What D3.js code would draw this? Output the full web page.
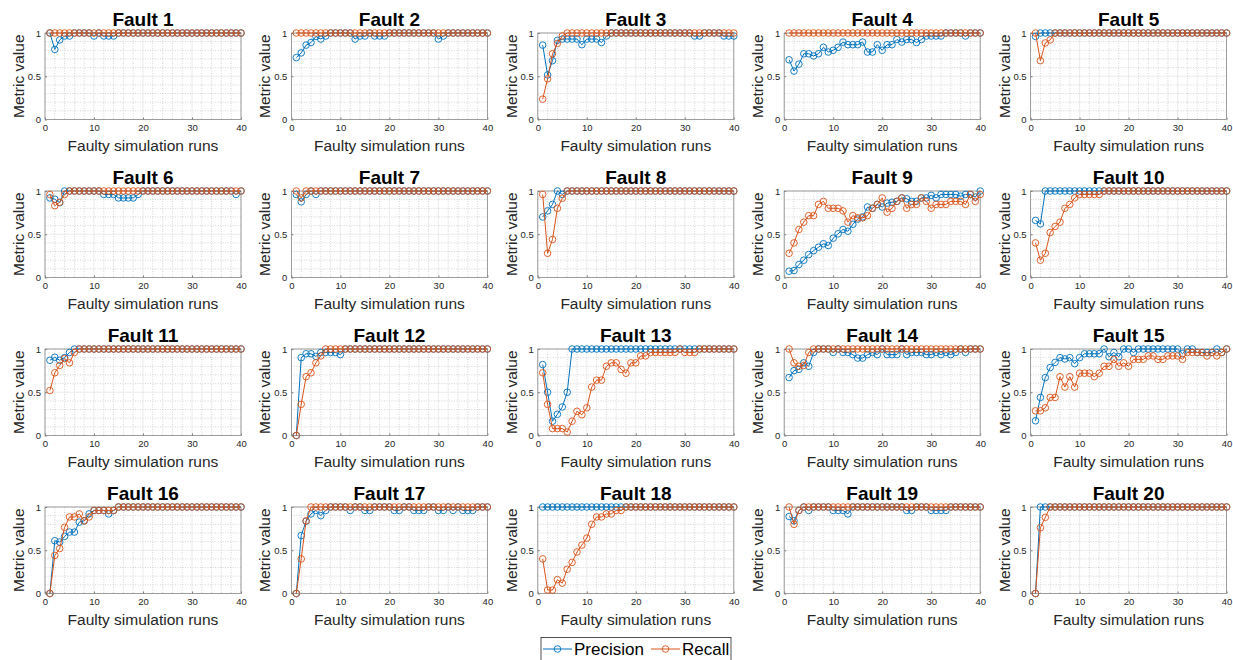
<!DOCTYPE html>
<html><head><meta charset="utf-8">
<script src="https://cdn.jsdelivr.net/npm/d3@7"></script>
<style>
body{margin:0;background:#fff}
svg{display:block}
text{font-family:"Liberation Sans",Arial,Helvetica,sans-serif}
</style>
</head><body><svg id="c" width="1233" height="660"></svg>
<script>
const faultNames = ["Fault 1","Fault 2","Fault 3","Fault 4","Fault 5","Fault 6","Fault 7","Fault 8","Fault 9","Fault 10",
  "Fault 11","Fault 12","Fault 13","Fault 14","Fault 15","Fault 16","Fault 17","Fault 18","Fault 19","Fault 20"];
const runs = [1,2,3,4,5,6,7,8,9,10,11,12,13,14,15,16,17,18,19,20,21,22,23,24,25,26,27,28,29,30,31,32,33,34,35,36,37,38,39,40];
const xTicks = [0,10,20,30,40];
const yTicks = [0,0.5,1];
const xMinorTicks = [2,4,6,8,12,14,16,18,22,24,26,28,32,34,36,38];
const yMinorTicks = [0.1,0.2,0.3,0.4,0.6,0.7,0.8,0.9];
const seriesNames = ["Precision","Recall"];

const precision = [
 [1,0.81,0.92,0.965,0.965,1,1,1,1,0.965, 1,0.965,0.965,0.965,1,1,1,1,1,1, 1,1,1,1,1,1,1,1,1,1, 1,1,1,1,1,1,1,1,1,1],
 [0.715,0.77,0.86,0.89,0.96,0.93,0.965,1,1,1, 1,1,0.93,0.965,0.965,1,0.965,0.965,0.965,1, 1,1,1,1,1,1,1,1,1,0.93, 0.965,1,1,1,1,1,1,1,1,1],
 [0.86,0.515,0.68,0.915,0.93,0.93,0.93,0.93,0.865,0.93, 0.93,0.93,0.89,0.965,1,1,1,1,1,1, 1,1,1,1,1,1,1,1,1,1, 1,0.965,0.965,1,1,1,1,0.965,0.965,0.965],
 [0.69,0.56,0.64,0.76,0.76,0.735,0.76,0.835,0.78,0.80, 0.835,0.895,0.865,0.865,0.865,0.895,0.78,0.78,0.865,0.80, 0.865,0.865,0.925,0.895,0.925,0.925,0.89,0.925,0.965,0.965, 0.965,0.965,1,1,1,1,0.965,1,1,1],
 [0.96,1,1,1,1,1,1,1,1,1, 1,1,1,1,1,1,1,1,1,1, 1,1,1,1,1,1,1,1,1,1, 1,1,1,1,1,1,1,1,1,1],
 [0.92,0.905,0.865,1,1,1,1,1,1,1, 1,0.96,0.96,0.96,0.92,0.92,0.92,0.92,0.96,1, 1,1,1,1,1,1,1,1,1,1, 1,1,1,1,1,1,1,1,0.96,1],
 [0.96,0.875,0.96,1,0.96,1,1,1,1,1, 1,1,1,1,1,1,1,1,1,1, 1,1,1,1,1,1,1,1,1,1, 1,1,1,1,1,1,1,1,1,1],
 [0.70,0.77,0.845,1,0.96,1,1,1,1,1, 1,1,1,1,1,1,1,1,1,1, 1,1,1,1,1,1,1,1,1,1, 1,1,1,1,1,1,1,1,1,1],
 [0.073,0.08,0.15,0.20,0.265,0.31,0.35,0.39,0.37,0.455, 0.505,0.555,0.535,0.615,0.675,0.70,0.815,0.80,0.845,0.815, 0.86,0.87,0.88,0.92,0.91,0.88,0.88,0.92,0.92,0.95, 0.92,0.96,0.96,0.96,0.96,0.94,0.96,0.96,0.93,1],
 [0.66,0.62,1,1,1,1,1,1,1,1, 1,1,1,1,1,1,1,1,1,1, 1,1,1,1,1,1,1,1,1,1, 1,1,1,1,1,1,1,1,1,1],
 [0.87,0.905,0.87,0.9,0.96,1,1,1,1,1, 1,1,1,1,1,1,1,1,1,1, 1,1,1,1,1,1,1,1,1,1, 1,1,1,1,1,1,1,1,1,1],
 [0,0.9,0.945,0.945,0.915,0.96,0.96,0.96,0.96,0.935, 1,1,1,1,1,1,1,1,1,1, 1,1,1,1,1,1,1,1,1,1, 1,1,1,1,1,1,1,1,1,1],
 [0.82,0.50,0.165,0.245,0.33,0.50,1,1,1,1, 1,1,1,1,1,1,1,1,1,1, 1,1,1,1,1,1,1,1,1,1, 1,1,1,1,1,1,1,1,1,1],
 [0.67,0.75,0.765,0.84,0.80,0.96,1,1,1,0.96, 1,0.96,0.96,0.935,0.895,0.895,0.935,0.96,0.935,1, 0.935,0.935,0.935,1,0.935,0.96,0.96,0.96,0.935,0.935, 0.96,0.935,0.96,0.935,0.96,1,0.96,1,1,1],
 [0.17,0.44,0.67,0.785,0.845,0.90,0.885,0.90,0.83,0.90, 0.945,0.945,0.945,0.945,1,0.91,0.96,0.91,1,1, 0.96,1,1,1,1,1,1,1,1,1, 0.945,1,1,0.96,0.96,0.96,0.96,1,0.96,1],
 [0,0.61,0.595,0.66,0.71,0.71,0.825,0.84,0.92,0.96, 0.96,0.96,0.92,0.96,1,1,1,1,1,1, 1,1,1,1,1,1,1,1,1,1, 1,1,1,1,1,1,1,1,1,1],
 [0,0.67,0.835,0.92,0.96,0.90,0.96,1,1,1, 1,0.96,1,1,0.96,0.96,1,1,1,1, 0.96,0.96,1,1,0.96,0.96,0.96,1,1,0.96, 0.96,1,0.96,1,0.96,0.96,0.96,1,1,1],
 [1,1,1,1,1,1,1,1,1,1, 1,1,1,1,1,1,1,1,1,1, 1,1,1,1,1,1,1,1,1,1, 1,1,1,1,1,1,1,1,1,1],
 [0.89,0.84,0.96,1,0.96,1,1,1,1,0.96, 0.96,0.96,0.92,1,1,1,1,1,1,1, 1,1,1,1,0.96,0.96,1,1,1,0.96, 0.96,0.96,0.96,1,1,1,1,1,1,1],
 [0,1,1,1,1,1,1,1,1,1, 1,1,1,1,1,1,1,1,1,1, 1,1,1,1,1,1,1,1,1,1, 1,1,1,1,1,1,1,1,1,1]
];

const recall = [
 [1,1,1,1,1,1,1,1,1,1, 1,1,1,1,1,1,1,1,1,1, 1,1,1,1,1,1,1,1,1,1, 1,1,1,1,1,1,1,1,1,1],
 [1,1,1,1,1,1,1,1,1,1, 1,1,1,1,1,1,1,1,1,1, 1,1,1,1,1,1,1,1,1,1, 1,1,1,1,1,1,1,1,1,1],
 [0.235,0.47,0.76,0.88,0.965,1,1,1,1,1, 1,1,1,1,1,1,1,1,1,1, 1,1,1,1,1,1,1,1,1,1, 1,1,1,1,1,1,1,1,1,1],
 [1,1,1,1,1,1,1,1,1,1, 1,1,1,1,1,1,1,1,1,1, 1,1,1,1,1,1,1,1,1,1, 1,1,1,1,1,1,1,1,1,1],
 [1,0.68,0.885,0.92,1,1,1,1,1,1, 1,1,1,1,1,1,1,1,1,1, 1,1,1,1,1,1,1,1,1,1, 1,1,1,1,1,1,1,1,1,1],
 [0.96,0.83,0.87,0.96,1,1,1,1,1,1, 1,1,1,1,1,1,1,1,1,1, 1,1,1,1,1,1,1,1,1,1, 1,1,1,1,1,1,1,1,1,1],
 [1,0.92,1,1,1,1,1,1,1,1, 1,1,1,1,1,1,1,1,1,1, 1,1,1,1,1,1,1,1,1,1, 1,1,1,1,1,1,1,1,1,1],
 [0.96,0.28,0.44,0.80,0.915,1,1,1,1,1, 1,1,1,1,1,1,1,1,1,1, 1,1,1,1,1,1,1,1,1,1, 1,1,1,1,1,1,1,1,1,1],
 [0.28,0.40,0.555,0.64,0.715,0.715,0.845,0.88,0.80,0.80, 0.80,0.77,0.64,0.715,0.69,0.69,0.715,0.80,0.845,0.92, 0.755,0.80,0.88,0.92,0.80,0.845,0.845,0.92,0.88,0.80, 0.845,0.845,0.845,0.88,0.88,0.88,0.845,0.96,0.88,0.96],
 [0.40,0.20,0.28,0.52,0.59,0.64,0.80,0.845,0.92,0.96, 0.96,0.96,0.96,0.96,1,1,1,1,1,1, 1,1,1,1,1,1,1,1,1,1, 1,1,1,1,1,1,1,1,1,1],
 [0.52,0.725,0.81,0.89,0.84,0.96,1,1,1,1, 1,1,1,1,1,1,1,1,1,1, 1,1,1,1,1,1,1,1,1,1, 1,1,1,1,1,1,1,1,1,1],
 [0,0.36,0.68,0.725,0.84,0.92,1,1,1,1, 1,1,1,1,1,1,1,1,1,1, 1,1,1,1,1,1,1,1,1,1, 1,1,1,1,1,1,1,1,1,1],
 [0.725,0.36,0.08,0.08,0.08,0.04,0.165,0.28,0.24,0.32, 0.56,0.64,0.64,0.80,0.84,0.84,0.765,0.72,0.84,0.84, 0.92,0.92,0.96,0.96,0.96,0.96,0.96,0.96,1,0.96, 0.96,0.96,1,1,1,1,1,1,1,1],
 [1,0.84,0.80,0.81,0.96,1,1,1,1,1, 1,1,1,1,1,1,1,1,1,1, 1,1,1,1,1,1,1,1,1,1, 1,1,1,1,1,1,1,1,1,1],
 [0.285,0.285,0.32,0.44,0.44,0.68,0.56,0.68,0.56,0.72, 0.72,0.72,0.68,0.72,0.80,0.80,0.88,0.80,0.84,0.80, 0.88,0.88,0.88,0.92,0.92,0.88,0.88,0.92,0.92,0.92, 0.88,0.96,0.96,0.96,0.96,0.92,0.96,0.92,0.96,1],
 [0,0.44,0.52,0.765,0.885,0.885,0.92,0.84,0.885,0.96, 0.96,0.96,0.96,0.96,1,1,1,1,1,1, 1,1,1,1,1,1,1,1,1,1, 1,1,1,1,1,1,1,1,1,1],
 [0,0.40,0.84,1,1,1,1,1,1,1, 1,1,1,1,1,1,1,1,1,1, 1,1,1,1,1,1,1,1,1,1, 1,1,1,1,1,1,1,1,1,1],
 [0.40,0.04,0.04,0.16,0.12,0.28,0.36,0.48,0.56,0.64, 0.80,0.885,0.885,0.92,0.92,0.96,0.96,1,1,1, 1,1,1,1,1,1,1,1,1,1, 1,1,1,1,1,1,1,1,1,1],
 [1,0.80,0.96,1,1,1,1,1,1,1, 1,1,1,1,1,1,1,1,1,1, 1,1,1,1,1,1,1,1,1,1, 1,1,1,1,1,1,1,1,1,1],
 [0,0.76,0.88,1,1,1,1,1,1,1, 1,1,1,1,1,1,1,1,1,1, 1,1,1,1,1,1,1,1,1,1, 1,1,1,1,1,1,1,1,1,1]
];

const colors = {Precision:"#0072BD", Recall:"#D95319"};
const axisColor = "#262626";

const svg = d3.select("#c");
svg.append("rect").attr("width",1233).attr("height",660).attr("fill","#fff");

const X0 = 45, Y0 = 33, COL = 246.4, ROW = 158, PW = 196, PH = 86.5;

faultNames.forEach((name, i) => {
  const c = i % 5, r = Math.floor(i / 5);
  const left = X0 + c * COL, top = Y0 + r * ROW;
  const x = d3.scaleLinear().domain([0, 40]).range([left, left + PW]);
  const y = d3.scaleLinear().domain([0, 1]).range([top + PH, top]);
  const g = svg.append("g");

  // minor grid
  g.append("g").selectAll("line").data(xMinorTicks).join("line")
    .attr("x1", d => x(d)).attr("x2", d => x(d)).attr("y1", top).attr("y2", top + PH)
    .attr("stroke", "#b8b8b8").attr("stroke-width", 0.6).attr("stroke-dasharray", "1,1.5");
  g.append("g").selectAll("line").data(yMinorTicks).join("line")
    .attr("y1", d => y(d)).attr("y2", d => y(d)).attr("x1", left).attr("x2", left + PW)
    .attr("stroke", "#b8b8b8").attr("stroke-width", 0.6).attr("stroke-dasharray", "1,1.5");
  // major grid
  g.append("g").selectAll("line").data(xTicks).join("line")
    .attr("x1", d => x(d)).attr("x2", d => x(d)).attr("y1", top).attr("y2", top + PH)
    .attr("stroke", "#dedede").attr("stroke-width", 0.6);
  g.append("g").selectAll("line").data(yTicks).join("line")
    .attr("y1", d => y(d)).attr("y2", d => y(d)).attr("x1", left).attr("x2", left + PW)
    .attr("stroke", "#dedede").attr("stroke-width", 0.6);

  // axes
  const ax = g.append("g").attr("transform", `translate(0,${top + PH})`)
    .call(d3.axisBottom(x).tickValues(xTicks).tickSizeInner(-2).tickSizeOuter(0).tickPadding(5).tickFormat(d3.format("d")));
  const ay = g.append("g").attr("transform", `translate(${left},0)`)
    .call(d3.axisLeft(y).tickValues(yTicks).tickSizeInner(-2).tickSizeOuter(0).tickPadding(4).tickFormat(d3.format("")));
  [ax, ay].forEach(a => {
    a.select(".domain").remove();
    a.selectAll(".tick line").attr("stroke", axisColor).attr("stroke-width", 0.6);
    a.selectAll(".tick text").attr("fill", axisColor).attr("font-size", 9.5)
      .attr("font-family", '"Liberation Sans",Arial,sans-serif');
  });
  g.append("rect").attr("x", left).attr("y", top).attr("width", PW).attr("height", PH)
    .attr("fill", "none").attr("stroke", "#8a8a8a").attr("stroke-width", 0.8);

  // labels
  g.append("text").attr("x", left + PW / 2).attr("y", top - 7).attr("text-anchor", "middle")
    .attr("font-size", 19).attr("font-weight", "bold").attr("fill", "#000").text(name);
  g.append("text").attr("x", left + PW / 2).attr("y", top + PH + 31).attr("text-anchor", "middle")
    .attr("font-size", 15.5).attr("fill", axisColor).text("Faulty simulation runs");
  g.append("text").attr("transform", `translate(${left - 21},${top + PH / 2}) rotate(-90)`)
    .attr("text-anchor", "middle").attr("font-size", 15.5).attr("fill", axisColor).text("Metric value");

  // series
  const data = {Precision: precision[i], Recall: recall[i]};
  seriesNames.forEach(s => {
    const pts = runs.map((rn, k) => [rn, data[s][k]]);
    const line = d3.line().x(d => x(d[0])).y(d => y(d[1]));
    g.append("path").datum(pts).attr("d", line).attr("fill", "none")
      .attr("stroke", colors[s]).attr("stroke-width", 1);
    g.append("g").selectAll("circle").data(pts).join("circle")
      .attr("cx", d => x(d[0])).attr("cy", d => y(d[1])).attr("r", 3.3)
      .attr("fill", "none").attr("stroke", colors[s]).attr("stroke-width", 0.9);
  });
});

// legend
const lg = svg.append("g");
lg.append("rect").attr("x", 541).attr("y", 637.5).attr("width", 190).attr("height", 40)
  .attr("fill", "#fff").attr("stroke", axisColor).attr("stroke-width", 0.8);
const legendItems = [{s: "Precision", x0: 543}, {s: "Recall", x0: 651}];
legendItems.forEach(it => {
  lg.append("line").attr("x1", it.x0).attr("x2", it.x0 + 29).attr("y1", 649).attr("y2", 649)
    .attr("stroke", colors[it.s]).attr("stroke-width", 1);
  lg.append("circle").attr("cx", it.x0 + 14.5).attr("cy", 649).attr("r", 3.3)
    .attr("fill", "none").attr("stroke", colors[it.s]).attr("stroke-width", 0.9);
  lg.append("text").attr("x", it.x0 + 31).attr("y", 655).attr("font-size", 17).attr("fill", "#000").text(it.s);
});
</script></body></html>
